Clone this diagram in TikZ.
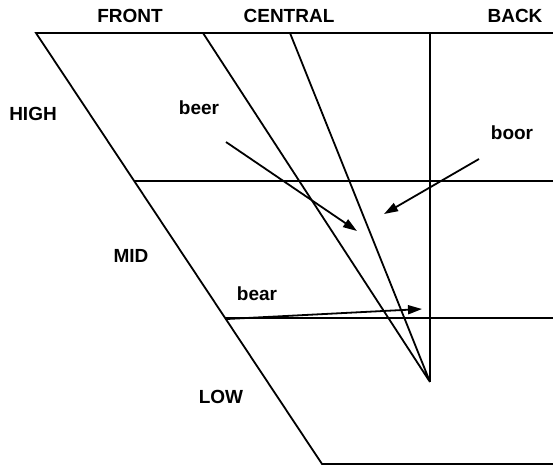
\documentclass[tikz,border=0pt]{standalone}
\usepackage{fontspec}
\setmainfont{Liberation Sans}
\usetikzlibrary{arrows.meta}
\begin{document}
\begin{tikzpicture}[x=1pt,y=-1pt,
  ln/.style={line width=1.8pt},
  arr/.style={line width=1.8pt,-{Triangle[length=14pt,width=9pt]}},
  lbl/.style={font=\fontsize{19}{22}\selectfont\bfseries,inner sep=0pt}]
\useasboundingbox (0,0) rectangle (553,466);
\coordinate (tl) at (36,33);
\coordinate (tr) at (553,33);
\coordinate (bl) at (322,464);
\coordinate (br) at (553,464);
\coordinate (ml) at (134,181);
\coordinate (mr) at (553,181);
\coordinate (ll) at (225,318);
\coordinate (lr) at (553,318);
\coordinate (c1) at (203,33);
\coordinate (c2) at (290,33);
\coordinate (bk) at (430,33);
\coordinate (v) at (430,382);
\draw[ln] (tr) -- (tl) -- (bl) -- (br);
\draw[ln] (ml) -- (mr);
\draw[ln] (ll) -- (lr);
\draw[ln] (c1) -- (v) -- (c2);
\draw[ln] (bk) -- (v);
\node[lbl] (front) at (130,16) {FRONT};
\node[lbl] (central) at (289,16) {CENTRAL};
\node[lbl] (back) at (515,16) {BACK};
\node[lbl] (high) at (33,114) {HIGH};
\node[lbl] (mid) at (131,256) {MID};
\node[lbl] (low) at (221,397) {LOW};
\node[lbl] (beer) at (199,108) {beer};
\node[lbl] (boor) at (512,133) {boor};
\node[lbl] (bear) at (257,294) {bear};
\coordinate (beers) at (226,142);
\coordinate (beert) at (357,231);
\coordinate (boors) at (479,159);
\coordinate (boort) at (384,214);
\coordinate (bears) at (227,319);
\coordinate (beart) at (422,309);
\draw[arr] (beers) -- (beert);
\draw[arr] (boors) -- (boort);
\draw[arr] (bears) -- (beart);
\end{tikzpicture}
\end{document}
